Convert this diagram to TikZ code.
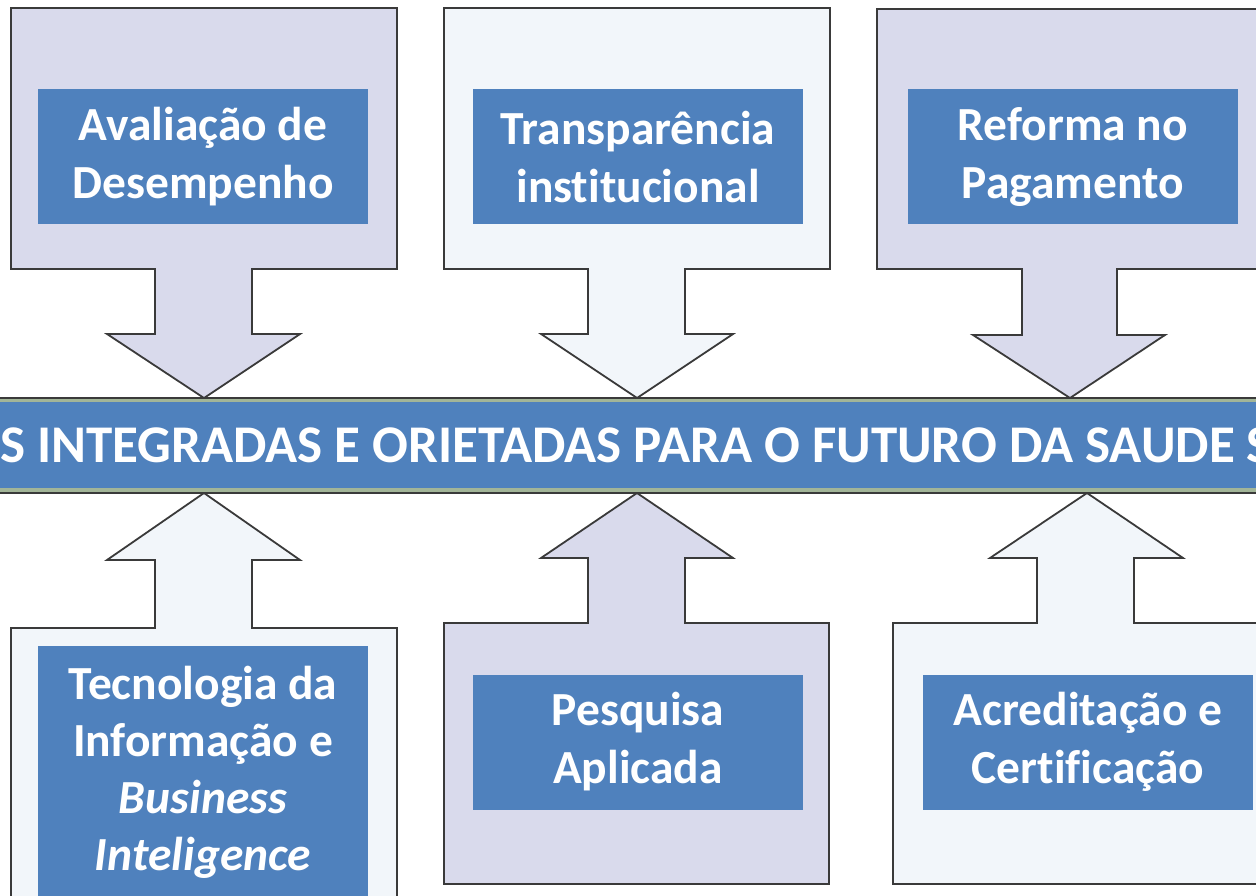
\documentclass[tikz,border=0pt]{standalone}
\usepackage{fontspec}
\setmainfont{Carlito}[Ligatures=NoCommon]
\definecolor{lav}{HTML}{D9DAEC}
\definecolor{pale}{HTML}{F2F6FA}
\definecolor{bluebox}{HTML}{4F81BD}
\definecolor{edge}{HTML}{3A3A3A}
\definecolor{strip}{HTML}{A2B598}
\tikzset{
  callout/.style={draw=edge, line width=1.8pt, line join=miter},
  label/.style={fill=bluebox, text=white, font=\bfseries\fontsize{47.5}{58}\selectfont,
    align=center, inner sep=0pt, minimum width=330pt, minimum height=135pt},
}
\begin{document}
\begin{tikzpicture}[x=1pt,y=-1pt]
\useasboundingbox (0,0) rectangle (1256,896);
\clip (0,0) rectangle (1256,896);
\fill[white] (0,0) rectangle (1256,896);
% top callouts (downward)
\draw[callout, fill=lav] (11,8) -- (397,8) -- (397,269) -- (252,269) -- (252,334) -- (300,334) -- (204,398) -- (107,334) -- (155,334) -- (155,269) -- (11,269) -- cycle;
\draw[callout, fill=pale] (444,8) -- (830,8) -- (830,269) -- (685,269) -- (685,334) -- (733,334) -- (637,398) -- (541,334) -- (588,334) -- (588,269) -- (444,269) -- cycle;
\draw[callout, fill=lav] (877,9) -- (1270,9) -- (1270,269) -- (1117,269) -- (1117,335) -- (1165,335) -- (1070,398) -- (973,335) -- (1022,335) -- (1022,269) -- (877,269) -- cycle;
% bottom callouts (upward)
\draw[callout, fill=pale] (11,910) -- (11,628) -- (155,628) -- (155,560) -- (107,560) -- (204,493) -- (300,560) -- (252,560) -- (252,628) -- (397,628) -- (397,910);
\draw[callout, fill=lav] (444,884) -- (444,623) -- (588,623) -- (588,558) -- (541,558) -- (637,493) -- (733,558) -- (685,558) -- (685,623) -- (829,623) -- (829,884) -- cycle;
\draw[callout, fill=pale] (1270,884) -- (893,884) -- (893,623) -- (1037,623) -- (1037,558) -- (990,558) -- (1087,493) -- (1183,558) -- (1134,558) -- (1134,623) -- (1270,623);
% banner
\draw[draw=edge, line width=1.8pt, fill=strip] (-20,398) rectangle (1280,493);
\fill[bluebox] (-20,402) rectangle (1280,488);
\node[text=white, font=\bfseries\fontsize{53}{60}\selectfont, anchor=base] (banner) at (636,462) {S INTEGRADAS E ORIETADAS PARA O FUTURO DA SAUDE S};
% labels
\node[label] (aval) at (203,157) {Avaliação de\\Desempenho};
\node[label] (transp) at (638,157) {Transparência\\institucional};
\node[label] (reforma) at (1073,157) {Reforma no\\Pagamento};
\node[label, minimum height=250pt, anchor=north] (tec) at (203,646) {};
\node[text=white, font=\bfseries\fontsize{47.5}{57}\selectfont, align=center, anchor=base] (tectext) at (203,870) {Tecnologia da\\Informação e\\\textit{Business}\\\textit{Inteligence}};
\node[label] (pesq) at (638,742) {Pesquisa\\Aplicada};
\node[label] (acred) at (1088,742) {Acreditação e\\Certificação};
\end{tikzpicture}
\end{document}
